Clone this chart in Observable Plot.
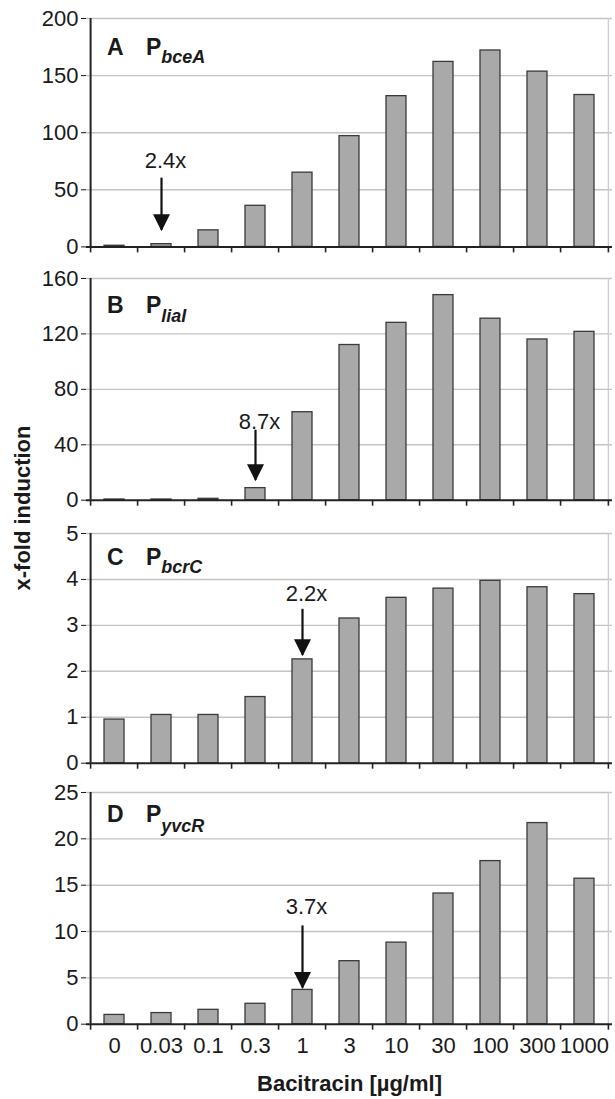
<!DOCTYPE html>
<html>
<head>
<meta charset="utf-8">
<script src="https://cdn.jsdelivr.net/npm/d3@7"></script>
<script src="https://cdn.jsdelivr.net/npm/@observablehq/plot@0.6"></script>
<style>
  body { margin: 0; background: #fff; }
  #chart { position: relative; width: 615px; height: 1099px; font-family: "Liberation Sans", Arial, sans-serif; color: #1a1a1a; overflow: hidden; }
  #chart svg { position: absolute; left: 0; overflow: visible; }
  #ylabel { position: absolute; left: 23px; top: 508px; transform: translate(-50%, -50%) rotate(-90deg); white-space: nowrap; font-weight: bold; font-size: 22px; }
</style>
</head>
<body>
<div id="chart"><div id="ylabel"></div></div>
<script>
// ---- data ----
const concentrations = ["0", "0.03", "0.1", "0.3", "1", "3", "10", "30", "100", "300", "1000"];
const panelLetters = ["A", "B", "C", "D"];
const promoters = ["bceA", "liaI", "bcrC", "yvcR"];
const valuesA = [1, 2.4, 14.5, 36, 65, 97, 132, 162, 172, 153.5, 133];
const valuesB = [0.5, 0.5, 1, 8.7, 63.5, 112, 128, 148, 131, 116, 121.5];
const valuesC = [0.95, 1.05, 1.05, 1.44, 2.26, 3.15, 3.6, 3.8, 3.97, 3.83, 3.68];
const valuesD = [1.0, 1.2, 1.55, 2.2, 3.7, 6.8, 8.8, 14.1, 17.6, 21.7, 15.7];
const yMax = [200, 160, 5, 25];
const yTicks = [[0, 50, 100, 150, 200], [0, 40, 80, 120, 160], [0, 1, 2, 3, 4, 5], [0, 5, 10, 15, 20, 25]];
const annCategory = ["0.03", "0.3", "1", "1"];
const annLabel = ["2.4x", "8.7x", "2.2x", "3.7x"];
const annTextY = [75, 56.6, 3.68, 12.65];
const annFromY = [60.2, 50.5, 3.35, 10.6];
const annToY = [14.6, 14.4, 2.35, 3.9];
const xLabel = "Bacitracin [µg/ml]";
const yLabel = "x-fold induction";

// ---- layout ----
const W = 615, ML = 86, MR = 3;
const frameTop = [18.3, 278.3, 533.3, 791.6];
const frameBottom = [246.7, 500, 763, 1023.3];
const titleBase = [37, 35, 32, 30];
const subDrop = [8, 9, 8, 10];
const step = (W - ML - MR) / concentrations.length;
const ink = "#1a1a1a";

const arrowHead = {
  draw(ctx) { ctx.moveTo(0, 1); ctx.lineTo(-8.5, -16); ctx.lineTo(8.5, -16); ctx.closePath(); }
};

const root = document.getElementById("chart");
document.getElementById("ylabel").textContent = yLabel;

[valuesA, valuesB, valuesC, valuesD].forEach((vals, k) => {
  const isLast = k === 3;
  const mt = 12, mb = isLast ? 76 : 12;
  const innerH = frameBottom[k] - frameTop[k];
  const H = mt + innerH + mb;
  const rows = concentrations.map((c, i) => ({c, v: vals[i]}));
  const ann = [{c: annCategory[k], label: annLabel[k], ty: annTextY[k], y1: annFromY[k], y2: annToY[k]}];
  const first = concentrations[0], last = concentrations[concentrations.length - 1];

  const titleMark = () => {
    const g = d3.create("svg:g");
    g.append("text")
      .attr("x", ML + 21).attr("y", mt + titleBase[k]).attr("text-anchor", "start")
      .attr("font-weight", "bold").attr("font-size", 23).attr("fill", ink)
      .text(panelLetters[k]);
    const t = g.append("text")
      .attr("x", ML + 60).attr("y", mt + titleBase[k]).attr("text-anchor", "start")
      .attr("font-weight", "bold").attr("font-size", 23).attr("fill", ink);
    t.append("tspan").text("P");
    t.append("tspan").attr("dy", subDrop[k]).attr("font-size", 18).attr("font-style", "italic").text(promoters[k]);
    return g.node();
  };

  const marks = [
    Plot.gridY(yTicks[k].filter(t => t > 0), {stroke: "#c4c4c4", strokeOpacity: 1, strokeWidth: 1.4}),
    Plot.ruleX([last], {dx: step / 2, stroke: "#cdcdcd", strokeWidth: 1.4}),
    Plot.barY(rows, {x: "c", y: "v", fill: "#a9a9a9", stroke: "#3a3a3a", strokeWidth: 1.3}),
    Plot.ruleX(concentrations, {dx: -step / 2, insetTop: innerH, insetBottom: -6, stroke: "#222", strokeWidth: 1.6}),
    Plot.ruleX([last], {dx: step / 2, insetTop: innerH, insetBottom: -6, stroke: "#222", strokeWidth: 1.6}),
    Plot.ruleY([0], {stroke: "#222", strokeWidth: 2}),
    Plot.ruleX([first], {dx: -step / 2, stroke: "#222", strokeWidth: 2}),
    Plot.axisY({ticks: yTicks[k], tickFormat: d => String(d), tickSize: 5, tickPadding: 3, fontSize: 22, label: null, color: ink}),
    Plot.ruleX(ann, {x: "c", y1: "y1", y2: "y2", stroke: "#111", strokeWidth: 2.2}),
    Plot.dot(ann, {x: "c", y: "y2", symbol: arrowHead, fill: "#111", stroke: "none"}),
    Plot.text(ann, {x: "c", y: "ty", text: "label", fontSize: 22, dx: 4, fill: ink}),
    titleMark
  ];
  if (isLast) {
    marks.push(Plot.axisX({tickSize: 0, tickPadding: 13, fontSize: 22, label: null, color: ink}));
    marks.push(Plot.text([xLabel], {text: d => d, frameAnchor: "bottom", lineAnchor: "middle", dy: 60, fontSize: 22, fontWeight: "bold", fill: ink}));
  }

  const plot = Plot.plot({
    width: W, height: H,
    marginLeft: ML, marginRight: MR, marginTop: mt, marginBottom: mb,
    x: isLast
      ? {type: "band", domain: concentrations, paddingInner: 0.58, paddingOuter: 0.29}
      : {type: "band", domain: concentrations, paddingInner: 0.58, paddingOuter: 0.29, axis: null},
    y: {domain: [0, yMax[k]]},
    style: {fontFamily: '"Liberation Sans", Arial, sans-serif', fontSize: "22px", background: "transparent", overflow: "visible"},
    marks
  });
  plot.style.top = (frameTop[k] - mt) + "px";
  root.appendChild(plot);
});
</script>
</body>
</html>
